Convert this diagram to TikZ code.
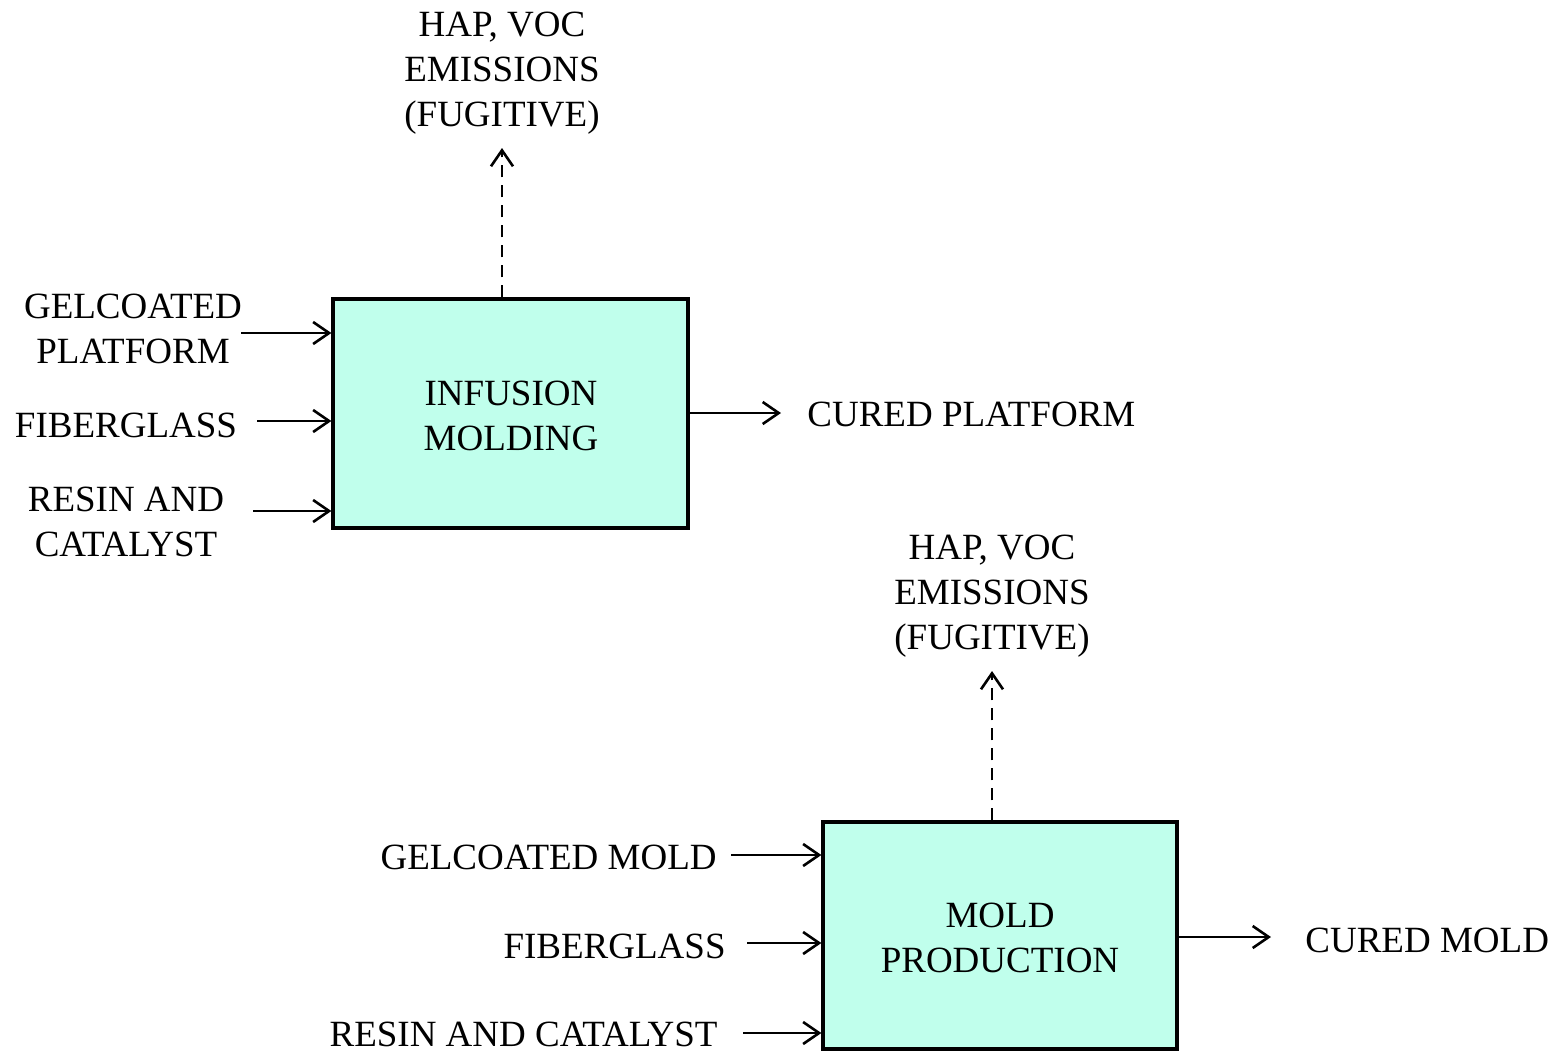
\documentclass[tikz,border=0pt]{standalone}
\usepackage{fontspec}
\setmainfont{Liberation Serif}
\usetikzlibrary{arrows.meta}
\definecolor{boxfill}{RGB}{192,255,236}
\tikzset{
  every node/.style={font=\fontsize{18.5}{22.5}\selectfont, inner sep=0pt, align=center},
  procbox/.style={draw=black, line width=1.6pt, fill=boxfill, rectangle},
  arr/.style={line width=1.3pt, -{Straight Barb[length=8pt,width=11pt,line width=1.3pt]}},
  emis/.style={arr, dashed, dash pattern=on 6pt off 4pt},
}
\begin{document}
\begin{tikzpicture}[x=0.5pt,y=-0.5pt]
\useasboundingbox (0,0) rectangle (1554,1051);
% upper process
\node[procbox, minimum width=177.5pt, minimum height=114.5pt] (b1) at (510.5,413.5) {};
\node (b1t) at (511,416) {INFUSION\\MOLDING};
\node (e1) at (502,73) {HAP, VOC\\EMISSIONS\\(FUGITIVE)};
\node (gp) at (133,329) {GELCOATED\\PLATFORM};
\node (fg1) at (126,425) {FIBERGLASS};
\node (rc1) at (126,522) {RESIN AND\\CATALYST};
\node[anchor=west] (cp) at (807,414) {CURED PLATFORM};
\coordinate (e1t) at (502,148);
\coordinate (gps) at (241,333);
\coordinate (fg1s) at (257,421);
\coordinate (rc1s) at (253,511);
\coordinate (cpe) at (781,413);
\draw[emis] (b1.north -| e1t) -- (e1t);
\draw[arr] (gps) -- (b1.west |- gps);
\draw[arr] (fg1s) -- (b1.west |- fg1s);
\draw[arr] (rc1s) -- (b1.west |- rc1s);
\draw[arr] (b1.east |- cpe) -- (cpe);
% lower process
\node[procbox, minimum width=177pt, minimum height=113.5pt] (b2) at (1000,935.5) {};
\node (b2t) at (1000,938) {MOLD\\PRODUCTION};
\node (e2) at (992,596) {HAP, VOC\\EMISSIONS\\(FUGITIVE)};
\node[anchor=east] (gm) at (717,857) {GELCOATED MOLD};
\node[anchor=east] (fg2) at (726,946) {FIBERGLASS};
\node[anchor=east] (rc2) at (718,1034) {RESIN AND CATALYST};
\node[anchor=west] (cm) at (1305,940) {CURED MOLD};
\coordinate (e2t) at (992,671);
\coordinate (gms) at (731,855);
\coordinate (fg2s) at (747,943);
\coordinate (rc2s) at (743,1033);
\coordinate (cme) at (1271,937);
\draw[emis] (b2.north -| e2t) -- (e2t);
\draw[arr] (gms) -- (b2.west |- gms);
\draw[arr] (fg2s) -- (b2.west |- fg2s);
\draw[arr] (rc2s) -- (b2.west |- rc2s);
\draw[arr] (b2.east |- cme) -- (cme);
\end{tikzpicture}
\end{document}
